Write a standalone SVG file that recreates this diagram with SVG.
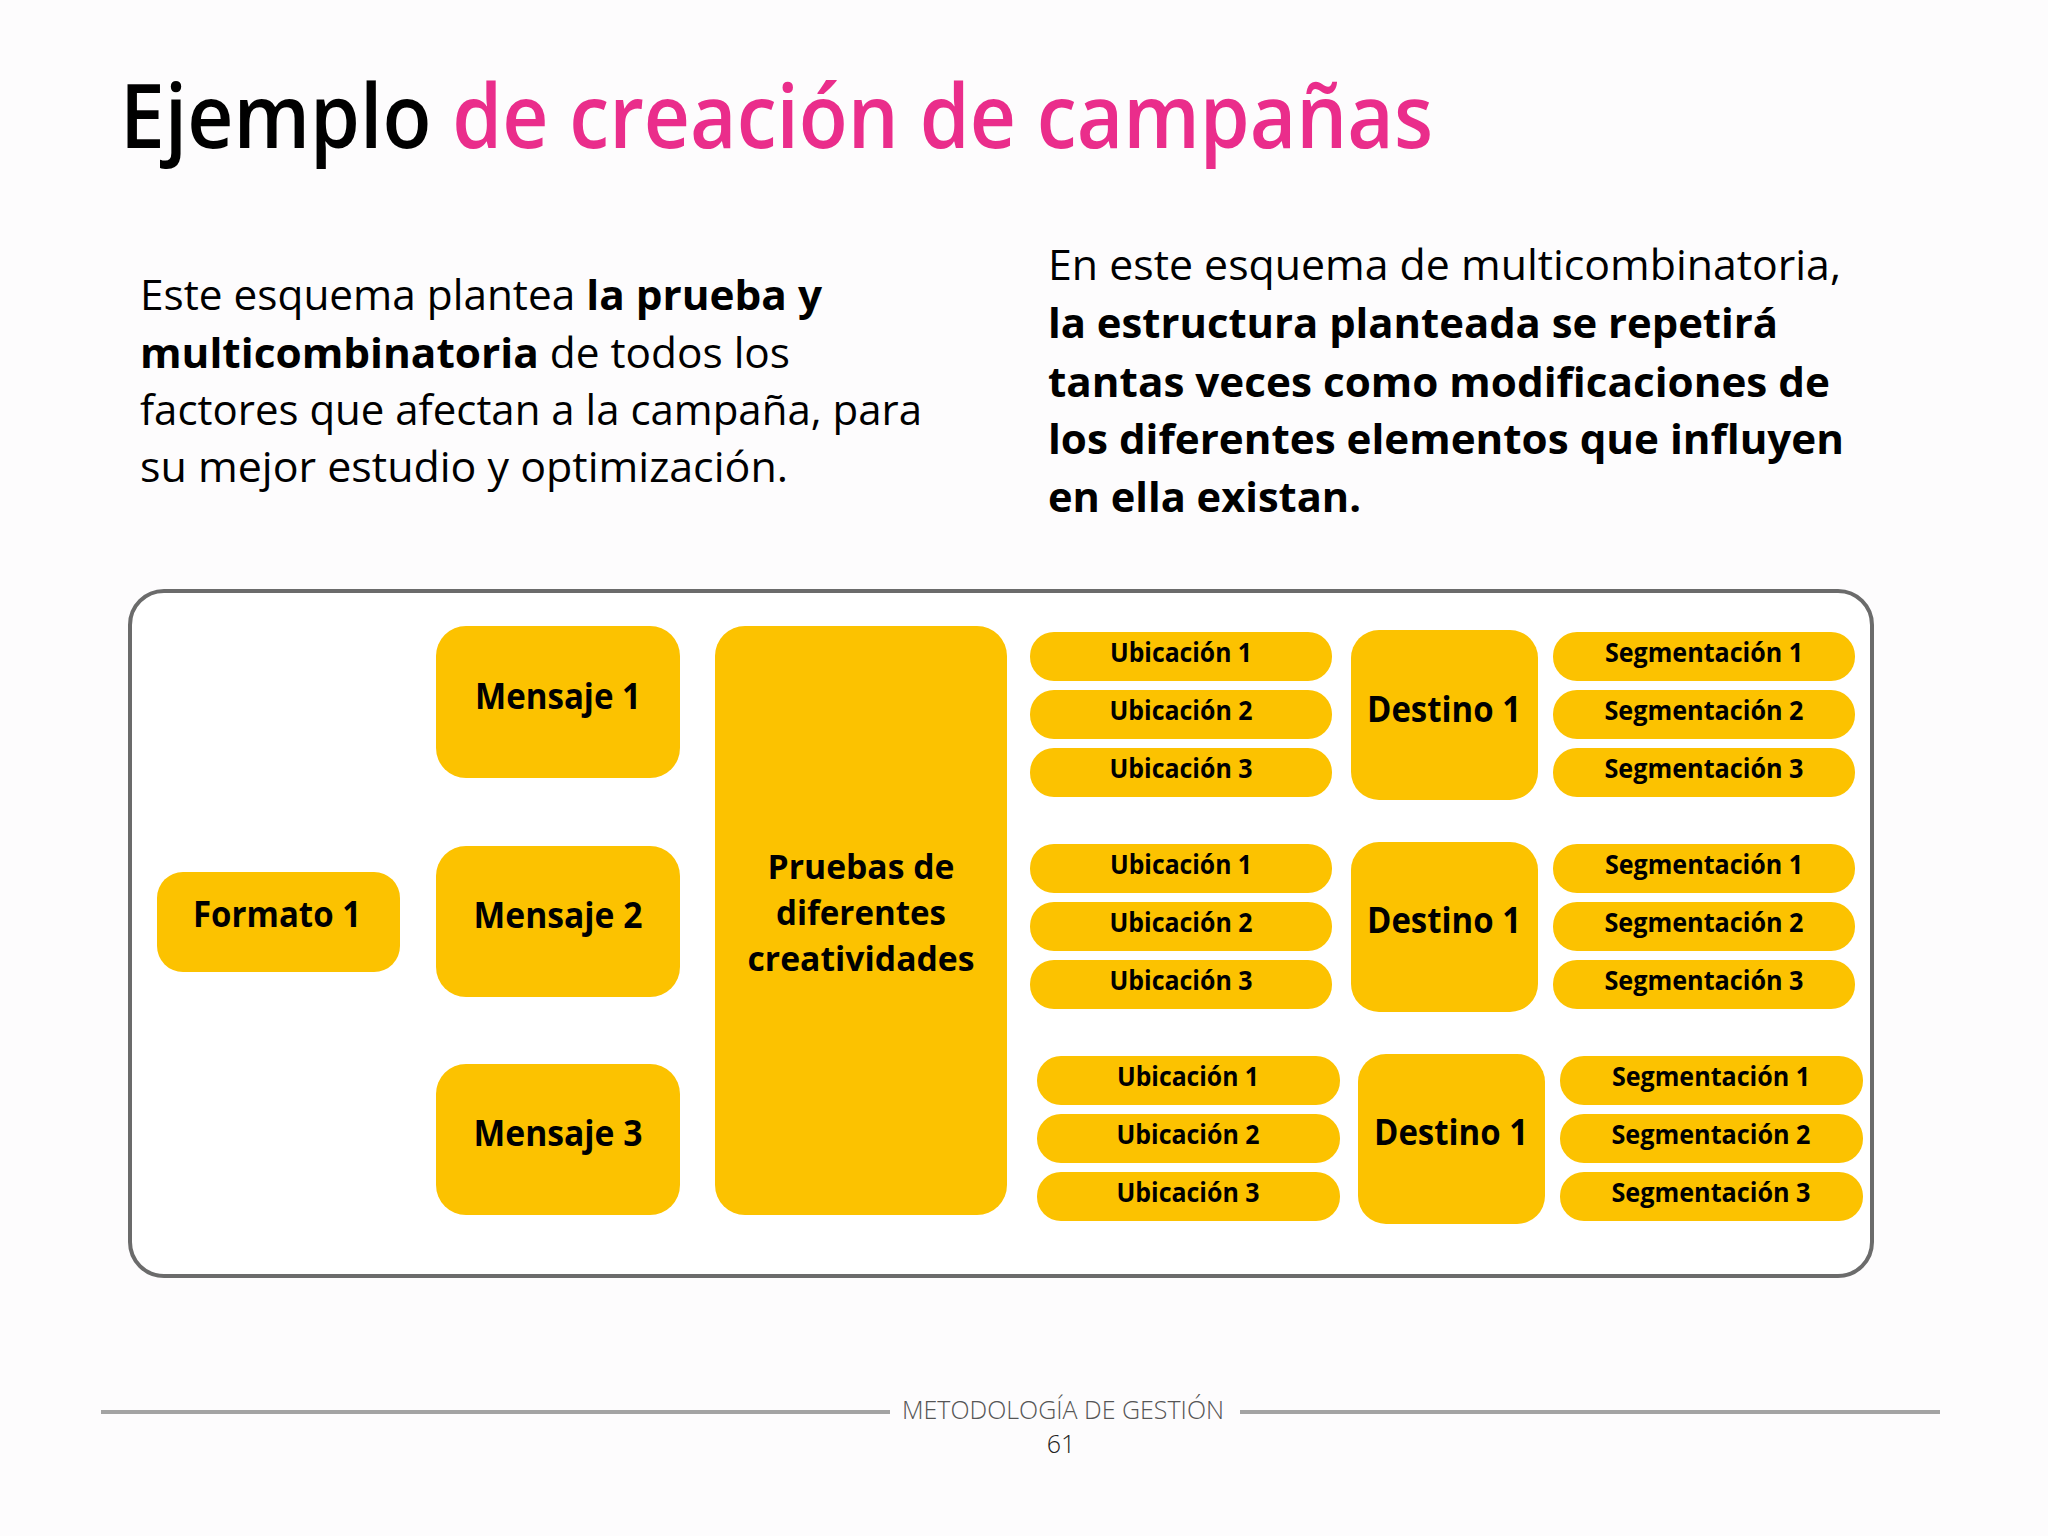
<svg xmlns="http://www.w3.org/2000/svg" width="2048" height="1536" viewBox="0 0 2048 1536">
<style>
.bg{fill:#fdfcfd}
.frame{fill:#ffffff;stroke:#6b6b6b;stroke-width:4}
.y{fill:#fcc200}
.t{font-family:"Open Sans","Noto Sans","Liberation Sans",sans-serif;fill:#000}
.b{font-weight:700}
.lbl{font-family:"Open Sans","Noto Sans","Liberation Sans",sans-serif;font-weight:700;fill:#000;text-anchor:middle}
.u{font-size:26px}
.big{font-size:36px}
.foot{font-family:"Open Sans","Noto Sans","Liberation Sans",sans-serif;font-weight:300;fill:#555;text-anchor:middle}
.rule{stroke:#a3a3a3;stroke-width:4}
</style>
<rect class="bg" x="0" y="0" width="2048" height="1536"/>
<g id="title">
<text class="t" x="120" y="148" font-size="88" font-weight="600" textLength="1313" lengthAdjust="spacingAndGlyphs">Ejemplo <tspan fill="#ea2d8b">de creación de campañas</tspan></text>
</g>
<g id="intro-left" class="t" font-size="42">
<text x="140" y="310" textLength="682" lengthAdjust="spacingAndGlyphs">Este esquema plantea <tspan class="b">la prueba y</tspan></text>
<text x="140" y="368" textLength="650" lengthAdjust="spacingAndGlyphs"><tspan class="b">multicombinatoria</tspan> de todos los</text>
<text x="140" y="425" textLength="782" lengthAdjust="spacingAndGlyphs">factores que afectan a la campaña, para</text>
<text x="140" y="482" textLength="648" lengthAdjust="spacingAndGlyphs">su mejor estudio y optimización.</text>
</g>
<g id="intro-right" class="t" font-size="42">
<text x="1048" y="280" textLength="793" lengthAdjust="spacingAndGlyphs">En este esquema de multicombinatoria,</text>
<text class="b" x="1048" y="338" textLength="730" lengthAdjust="spacingAndGlyphs">la estructura planteada se repetirá</text>
<text class="b" x="1048" y="397" textLength="782" lengthAdjust="spacingAndGlyphs">tantas veces como modificaciones de</text>
<text class="b" x="1048" y="454" textLength="796" lengthAdjust="spacingAndGlyphs">los diferentes elementos que influyen</text>
<text class="b" x="1048" y="512" textLength="313" lengthAdjust="spacingAndGlyphs">en ella existan.</text>
</g>
<g id="frame"><rect class="frame" x="130" y="591" width="1742" height="685" rx="34"/></g>
<g id="connectors"/>
<g id="formato1"><rect class="y" x="157" y="872" width="243" height="100" rx="26"/><text class="lbl big" x="277" y="927" textLength="168" lengthAdjust="spacingAndGlyphs">Formato 1</text></g>
<g id="mensaje1"><rect class="y" x="436" y="626" width="244" height="152" rx="30"/><text class="lbl big" x="558" y="709" textLength="166" lengthAdjust="spacingAndGlyphs">Mensaje 1</text></g>
<g id="mensaje2"><rect class="y" x="436" y="846" width="244" height="151" rx="30"/><text class="lbl big" x="558" y="928" textLength="169" lengthAdjust="spacingAndGlyphs">Mensaje 2</text></g>
<g id="mensaje3"><rect class="y" x="436" y="1064" width="244" height="151" rx="30"/><text class="lbl big" x="558" y="1146" textLength="169" lengthAdjust="spacingAndGlyphs">Mensaje 3</text></g>
<g id="pruebas"><rect class="y" x="715" y="626" width="292" height="589" rx="30"/>
<text class="lbl" font-size="34" x="861" y="879" textLength="187" lengthAdjust="spacingAndGlyphs">Pruebas de</text>
<text class="lbl" font-size="34" x="861" y="925" textLength="170" lengthAdjust="spacingAndGlyphs">diferentes</text>
<text class="lbl" font-size="34" x="861" y="971" textLength="227" lengthAdjust="spacingAndGlyphs">creatividades</text></g>

<g id="g1-ubicacion1"><rect class="y" x="1030" y="632" width="302" height="49" rx="24"/><text class="lbl u" x="1181" y="662" textLength="142" lengthAdjust="spacingAndGlyphs">Ubicación 1</text></g>
<g id="g1-ubicacion2"><rect class="y" x="1030" y="690" width="302" height="49" rx="24"/><text class="lbl u" x="1181" y="720" textLength="143" lengthAdjust="spacingAndGlyphs">Ubicación 2</text></g>
<g id="g1-ubicacion3"><rect class="y" x="1030" y="748" width="302" height="49" rx="24"/><text class="lbl u" x="1181" y="778" textLength="143" lengthAdjust="spacingAndGlyphs">Ubicación 3</text></g>
<g id="g1-destino"><rect class="y" x="1351" y="630" width="187" height="170" rx="28"/><text class="lbl big" x="1444" y="722" textLength="154" lengthAdjust="spacingAndGlyphs">Destino 1</text></g>
<g id="g1-segmentacion1"><rect class="y" x="1553" y="632" width="302" height="49" rx="24"/><text class="lbl u" x="1704" y="662" textLength="198" lengthAdjust="spacingAndGlyphs">Segmentación 1</text></g>
<g id="g1-segmentacion2"><rect class="y" x="1553" y="690" width="302" height="49" rx="24"/><text class="lbl u" x="1704" y="720" textLength="199" lengthAdjust="spacingAndGlyphs">Segmentación 2</text></g>
<g id="g1-segmentacion3"><rect class="y" x="1553" y="748" width="302" height="49" rx="24"/><text class="lbl u" x="1704" y="778" textLength="199" lengthAdjust="spacingAndGlyphs">Segmentación 3</text></g>

<g id="g2-ubicacion1"><rect class="y" x="1030" y="844" width="302" height="49" rx="24"/><text class="lbl u" x="1181" y="874" textLength="142" lengthAdjust="spacingAndGlyphs">Ubicación 1</text></g>
<g id="g2-ubicacion2"><rect class="y" x="1030" y="902" width="302" height="49" rx="24"/><text class="lbl u" x="1181" y="932" textLength="143" lengthAdjust="spacingAndGlyphs">Ubicación 2</text></g>
<g id="g2-ubicacion3"><rect class="y" x="1030" y="960" width="302" height="49" rx="24"/><text class="lbl u" x="1181" y="990" textLength="143" lengthAdjust="spacingAndGlyphs">Ubicación 3</text></g>
<g id="g2-destino"><rect class="y" x="1351" y="842" width="187" height="170" rx="28"/><text class="lbl big" x="1444" y="933" textLength="154" lengthAdjust="spacingAndGlyphs">Destino 1</text></g>
<g id="g2-segmentacion1"><rect class="y" x="1553" y="844" width="302" height="49" rx="24"/><text class="lbl u" x="1704" y="874" textLength="198" lengthAdjust="spacingAndGlyphs">Segmentación 1</text></g>
<g id="g2-segmentacion2"><rect class="y" x="1553" y="902" width="302" height="49" rx="24"/><text class="lbl u" x="1704" y="932" textLength="199" lengthAdjust="spacingAndGlyphs">Segmentación 2</text></g>
<g id="g2-segmentacion3"><rect class="y" x="1553" y="960" width="302" height="49" rx="24"/><text class="lbl u" x="1704" y="990" textLength="199" lengthAdjust="spacingAndGlyphs">Segmentación 3</text></g>

<g id="g3-ubicacion1"><rect class="y" x="1037" y="1056" width="303" height="49" rx="24"/><text class="lbl u" x="1188" y="1086" textLength="142" lengthAdjust="spacingAndGlyphs">Ubicación 1</text></g>
<g id="g3-ubicacion2"><rect class="y" x="1037" y="1114" width="303" height="49" rx="24"/><text class="lbl u" x="1188" y="1144" textLength="143" lengthAdjust="spacingAndGlyphs">Ubicación 2</text></g>
<g id="g3-ubicacion3"><rect class="y" x="1037" y="1172" width="303" height="49" rx="24"/><text class="lbl u" x="1188" y="1202" textLength="143" lengthAdjust="spacingAndGlyphs">Ubicación 3</text></g>
<g id="g3-destino"><rect class="y" x="1358" y="1054" width="187" height="170" rx="28"/><text class="lbl big" x="1451" y="1145" textLength="154" lengthAdjust="spacingAndGlyphs">Destino 1</text></g>
<g id="g3-segmentacion1"><rect class="y" x="1560" y="1056" width="303" height="49" rx="24"/><text class="lbl u" x="1711" y="1086" textLength="198" lengthAdjust="spacingAndGlyphs">Segmentación 1</text></g>
<g id="g3-segmentacion2"><rect class="y" x="1560" y="1114" width="303" height="49" rx="24"/><text class="lbl u" x="1711" y="1144" textLength="199" lengthAdjust="spacingAndGlyphs">Segmentación 2</text></g>
<g id="g3-segmentacion3"><rect class="y" x="1560" y="1172" width="303" height="49" rx="24"/><text class="lbl u" x="1711" y="1202" textLength="199" lengthAdjust="spacingAndGlyphs">Segmentación 3</text></g>

<g id="footer">
<line class="rule" x1="101" y1="1412" x2="890" y2="1412"/>
<line class="rule" x1="1240" y1="1412" x2="1940" y2="1412"/>
<text class="foot" x="1063" y="1419" font-size="26" textLength="322" lengthAdjust="spacingAndGlyphs">METODOLOGÍA DE GESTIÓN</text>
<text class="foot" x="1061" y="1453" font-size="25" fill="#222" style="fill:#222">61</text>
</g>
</svg>
